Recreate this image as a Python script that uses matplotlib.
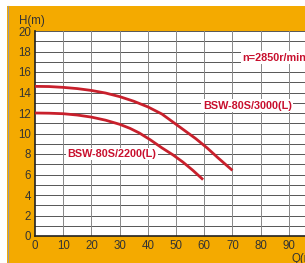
import matplotlib
matplotlib.use("Agg")
import matplotlib.pyplot as plt
from matplotlib.patches import Rectangle

q_3000 = [0, 5, 10, 15, 20, 25, 30, 35, 40, 45, 52.5, 57, 61, 65, 70]
h_3000 = [14.6, 14.58, 14.5, 14.38, 14.2, 13.95, 13.6, 13.15, 12.6, 11.9, 10.4, 9.5, 8.6, 7.6, 6.4]
q_2200 = [0, 5, 10, 15, 20, 25, 30, 33.7, 37, 40.8, 45, 49, 52.5, 56, 59.6]
h_2200 = [12.0, 11.98, 11.93, 11.8, 11.6, 11.3, 10.9, 10.5, 10.05, 9.4, 8.6, 7.9, 7.2, 6.4, 5.5]
x_ticks = [0, 10, 20, 30, 40, 50, 60, 70, 80, 90]
y_ticks = [0, 2, 4, 6, 8, 10, 12, 14, 16, 18, 20]

plt.rcParams['font.family'] = ['Liberation Sans', 'DejaVu Sans']

ORANGE = "#F4AA00"
RED = "#C8102E"
CURVE = "#C8202C"

W, H = 305, 263
fig = plt.figure(figsize=(W / 100, H / 100), dpi=100)
fig.patch.set_facecolor(ORANGE)
fig.patches.append(Rectangle((0, 1 - 6 / H), 1, 6 / H, transform=fig.transFigure,
                             facecolor="white", edgecolor="none", zorder=0))
fig.patches.append(Rectangle((0, 0), 7 / W, 1, transform=fig.transFigure,
                             facecolor="white", edgecolor="none", zorder=0))
fig.lines.append(plt.Line2D([7.5 / W, 7.5 / W], [0, 1 - 6 / H], transform=fig.transFigure,
                            color="#999999", lw=0.8))

left, right, top, bottom = 35, 317, 31, 236
ax = fig.add_axes([left / W, (H - bottom) / H, (right - left) / W, (bottom - top) / H])
ax.set_facecolor("white")
ax.set_xlim(0, 100)
ax.set_ylim(0, 20)

for y in range(0, 21):
    ax.axhline(y, color="#555555", lw=0.7, zorder=1)
for x in range(10, 100, 10):
    ax.axvline(x, color="#888888", lw=0.7, zorder=1)

ax.plot(q_3000, h_3000, color=CURVE, lw=2.0, zorder=3, solid_capstyle="butt")
ax.plot(q_2200, h_2200, color=CURVE, lw=2.0, zorder=3, solid_capstyle="butt")

bbox = dict(facecolor="white", edgecolor="none", pad=1)
ax.text(59.5, 12.7, "BSW-80S/3000(L)", color=RED, fontsize=7.8, fontweight="bold",
        ha="left", va="center", bbox=bbox, zorder=4)
ax.text(11.5, 8.0, "BSW-80S/2200(L)", color=RED, fontsize=7.8, fontweight="bold",
        ha="left", va="center", bbox=bbox, zorder=4)
ax.text(73.5, 17.4, "n=2850r/min", color=RED, fontsize=7.8, fontweight="bold",
        ha="left", va="center", bbox=bbox, zorder=4, clip_on=False)

ax.set_xticks(x_ticks)
ax.set_yticks(y_ticks)
ax.tick_params(axis="both", length=0, labelsize=8.3, colors="#333333", pad=3)
for s in ["top", "right"]:
    ax.spines[s].set_visible(False)
ax.spines["left"].set_color("#222222")
ax.spines["bottom"].set_color("#222222")
ax.spines["left"].set_linewidth(1.2)
ax.spines["bottom"].set_linewidth(1.2)

fig.text(19 / W, 1 - 21 / H, "H(m)", fontsize=8.3, color="#333333", ha="left", va="center")
fig.text(291 / W, 1 - 258.5 / H, "Q(m³/h)", fontsize=8.3, color="#333333", ha="left", va="center")

fig.savefig("out.png", dpi=100, facecolor=fig.get_facecolor())
